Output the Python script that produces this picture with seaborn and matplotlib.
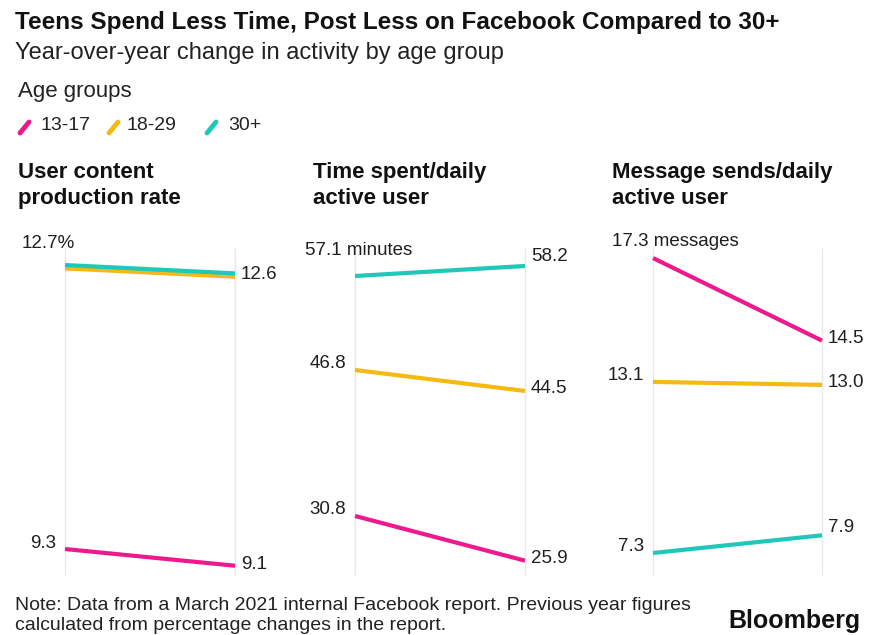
import matplotlib
matplotlib.use("Agg")
import matplotlib.pyplot as plt
from matplotlib.lines import Line2D
import seaborn as sns
import pandas as pd

sns.set_theme(style="white")
plt.rcParams['font.family'] = ['Liberation Sans', 'DejaVu Sans']

# ---- data ----
groups = ["13-17", "18-29", "30+"]
content_rate_prev = [9.3, 12.66, 12.7]
content_rate_curr = [9.1, 12.56, 12.6]
time_spent_prev = [30.8, 46.8, 57.1]
time_spent_curr = [25.9, 44.5, 58.2]
messages_prev = [17.3, 13.1, 7.3]
messages_curr = [14.5, 13.0, 7.9]
panel_titles = ["User content\nproduction rate", "Time spent/daily\nactive user",
                "Message sends/daily\nactive user"]
# text labels shown at line ends (None = not shown)
left_labels = [["9.3", None, "12.7%"], ["30.8", "46.8", "57.1 minutes"], ["17.3 messages", "13.1", "7.3"]]
right_labels = [["9.1", None, "12.6"], ["25.9", "44.5", "58.2"], ["14.5", "13.0", "7.9"]]

colors = {"13-17": "#ec1a8c", "18-29": "#f5b914", "30+": "#1fc8b8"}

# ---- layout ----
W, H = 875, 635
fig = plt.figure(figsize=(8.75, 6.35), dpi=100)
panel_x = [(65, 235), (355, 525), (653, 822)]
title_x = [18, 313, 612]
top_dx = [-43, -50, -41]
top_dy = [22, 26, 17]
y_top_px, y_bot_px = 248, 575
ylims = [(8.989, 12.904), (24.33, 60.17), (6.554, 17.64)]
right_dy = [[1, 0, -1], [2, 2, 9], [2, 2, 8]]
text_color = "#1f1f1f"
label_fs = 13.5

panels = [(content_rate_prev, content_rate_curr),
          (time_spent_prev, time_spent_curr),
          (messages_prev, messages_curr)]

for i, (prev, curr) in enumerate(panels):
    x0, x1 = panel_x[i]
    ax = fig.add_axes([x0 / W, 1 - y_bot_px / H, (x1 - x0) / W, (y_bot_px - y_top_px) / H])
    df = pd.DataFrame({
        "period": [0] * len(groups) + [1] * len(groups),
        "value": list(prev) + list(curr),
        "group": groups + groups,
    })
    ax.axvline(0, color="#e8e8e8", lw=1, zorder=0)
    ax.axvline(1, color="#e8e8e8", lw=1, zorder=0)
    sns.lineplot(data=df, x="period", y="value", hue="group", hue_order=groups,
                 palette=colors, linewidth=3, legend=False, ax=ax)
    for line in ax.lines:
        line.set_clip_on(False)
        line.set_solid_capstyle("butt")
    ax.set_xlim(0, 1)
    ax.set_ylim(*ylims[i])
    ax.axis("off")
    top_idx = max(range(len(groups)), key=lambda k: prev[k])
    for k in range(len(groups)):
        lab = left_labels[i][k]
        if lab:
            if k == top_idx:
                ax.annotate(lab, (0, prev[k]), xytext=(top_dx[i], top_dy[i]), textcoords="offset pixels",
                            ha="left", va="center", fontsize=label_fs, color=text_color)
            else:
                ax.annotate(lab, (0, prev[k]), xytext=(-9, 6), textcoords="offset pixels",
                            ha="right", va="center", fontsize=label_fs, color=text_color)
        lab = right_labels[i][k]
        if lab:
            ax.annotate(lab, (1, curr[k]), xytext=(6, right_dy[i][k]), textcoords="offset pixels",
                        ha="left", va="center", fontsize=label_fs, color=text_color)
    fig.text(title_x[i] / W, 1 - 162 / H, panel_titles[i], ha="left", va="top",
             fontsize=16, fontweight="bold", color="#111111", linespacing=1.3)

# ---- titles ----
fig.text(15 / W, 1 - 23 / H, "Teens Spend Less Time, Post Less on Facebook Compared to 30+",
         fontsize=17.5, fontweight="bold", va="center", ha="left", color="#111111")
fig.text(15 / W, 1 - 53 / H, "Year-over-year change in activity by age group",
         fontsize=17, va="center", ha="left", color="#222222")
fig.text(18 / W, 1 - 92 / H, "Age groups", fontsize=16, va="center", ha="left", color="#222222")

# legend
leg_x = [(18, 40), (107, 127), (205, 228)]
for g, (sx, tx) in zip(groups, leg_x):
    fig.add_artist(Line2D([(sx + 2) / W, (sx + 11) / W], [1 - 133 / H, 1 - 122 / H],
                          color=colors[g], lw=3.5, transform=fig.transFigure,
                          solid_capstyle="round"))
    fig.text(tx / W, 1 - 126 / H, g, fontsize=14, va="center", ha="left", color="#222222")

# note and source
fig.text(15 / W, 1 - 605 / H,
         "Note: Data from a March 2021 internal Facebook report. Previous year figures",
         fontsize=14, va="center", ha="left", color="#222222")
fig.text(15 / W, 1 - 625 / H, "calculated from percentage changes in the report.",
         fontsize=14, va="center", ha="left", color="#222222")
fig.text(860 / W, 1 - 621 / H, "Bloomberg", fontsize=18, fontweight="bold",
         va="center", ha="right", color="#111111")

fig.savefig("out.png", dpi=100)
